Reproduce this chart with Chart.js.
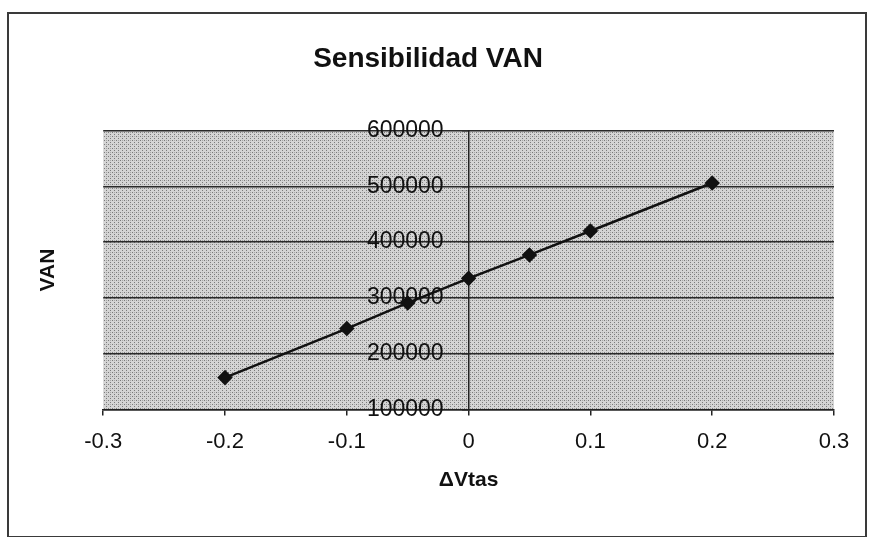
<!DOCTYPE html>
<html lang="es">
<head>
    <meta charset="UTF-8">
    <title>Sensibilidad VAN</title>
    <style>
        body {
            margin: 0;
            padding: 0;
            background-color: #fff;
        }

        .wrap {
            position: relative;
            width: 872px;
            height: 537px;
        }

        .frame {
            position: absolute;
            left: 7px;
            top: 12px;
            width: 860px;
            height: 526px;
            border: 2px solid #3a3a3a;
            box-sizing: border-box;
        }

        #chart {
            position: absolute;
            left: 0;
            top: 0;
        }
    </style>
</head>
<body>

    <div class="wrap">
        <div class="frame"></div>
        <canvas id="chart" width="872" height="537"></canvas>
    </div>

    <script src="https://cdn.jsdelivr.net/npm/chart.js"></script>
    <script>
        // Variacion de ventas vs VAN
        const deltaVtas = [-0.2, -0.1, -0.05, 0, 0.05, 0.1, 0.2];
        const vanValues = [157000, 245000, 291000, 335000, 377000, 420000, 506000];

        const xTickLabels = ['-0.3', '-0.2', '-0.1', '0', '0.1', '0.2', '0.3'];
        const yTickLabels = ['100000', '200000', '300000', '400000', '500000', '600000'];

        const fontFamily = "'Liberation Sans', Arial, sans-serif";

        // stippled gray background like the scanned Excel plot area
        const makePattern = (ctx) => {
            const p = document.createElement('canvas');
            p.width = 4;
            p.height = 4;
            const pc = p.getContext('2d');
            pc.fillStyle = '#d4d4d4';
            pc.fillRect(0, 0, 4, 4);
            pc.fillStyle = '#7a7a7a';
            pc.fillRect(0, 0, 1, 1);
            pc.fillRect(2, 2, 1, 1);
            pc.fillStyle = '#a8a8a8';
            pc.fillRect(2, 0, 1, 1);
            return ctx.createPattern(p, 'repeat');
        };

        const plotBackground = {
            id: 'plotBackground',
            beforeDraw(chart) {
                const { ctx, chartArea } = chart;
                ctx.save();
                ctx.fillStyle = makePattern(ctx);
                ctx.fillRect(chartArea.left, chartArea.top, chartArea.right - chartArea.left, chartArea.bottom - chartArea.top);
                ctx.restore();
            }
        };

        const ctx = document.getElementById('chart').getContext('2d');
        const chart = new Chart(ctx, {
            type: 'scatter',
            data: {
                datasets: [{
                    label: 'VAN',
                    data: deltaVtas.map((x, i) => ({ x: x, y: vanValues[i] })),
                    showLine: true,
                    borderColor: '#111',
                    borderWidth: 2.5,
                    backgroundColor: '#111',
                    pointStyle: 'rectRot',
                    pointRadius: 6,
                    pointHoverRadius: 6
                }]
            },
            options: {
                responsive: false,
                animation: false,
                layout: {
                    padding: { top: 20, left: 22, right: 38, bottom: 36 }
                },
                plugins: {
                    legend: { display: false },
                    tooltip: { enabled: false },
                    title: {
                        display: true,
                        text: 'Sensibilidad VAN',
                        color: '#111',
                        font: { family: fontFamily, size: 28, weight: 'bold' },
                        padding: { top: 22, bottom: 55 }
                    }
                },
                scales: {
                    x: {
                        type: 'linear',
                        min: -0.3,
                        max: 0.3,
                        ticks: {
                            stepSize: 0.1,
                            color: '#111',
                            padding: 13,
                            font: { family: fontFamily, size: 22 },
                            callback: (v, i) => xTickLabels[i]
                        },
                        grid: {
                            drawOnChartArea: false,
                            drawTicks: true,
                            tickLength: 6,
                            color: '#222',
                            lineWidth: 1.5
                        },
                        border: { color: '#222', width: 1.5 },
                        title: {
                            display: true,
                            text: 'ΔVtas',
                            color: '#111',
                            font: { family: fontFamily, size: 21, weight: 'bold' },
                            padding: { top: 0, bottom: 8 }
                        }
                    },
                    // axis line and gridlines crossing at x = 0
                    y: {
                        type: 'linear',
                        position: { x: 0 },
                        min: 100000,
                        max: 600000,
                        ticks: {
                            stepSize: 100000,
                            display: false
                        },
                        grid: {
                            color: '#2a2a2a',
                            lineWidth: 1.5,
                            drawTicks: true,
                            tickLength: 6
                        },
                        border: { color: '#222', width: 1.5 }
                    },
                    // tick labels, right aligned a little left of the axis
                    yLabels: {
                        type: 'linear',
                        axis: 'y',
                        position: { x: -0.0205 },
                        min: 100000,
                        max: 600000,
                        ticks: {
                            stepSize: 100000,
                            color: '#111',
                            font: { family: fontFamily, size: 23 },
                            callback: (v, i) => yTickLabels[i]
                        },
                        grid: { display: false, drawTicks: false },
                        border: { display: false }
                    },
                    // only carries the 'VAN' axis title on the left side
                    y2: {
                        type: 'linear',
                        axis: 'y',
                        position: 'left',
                        ticks: { display: false },
                        grid: { display: false, drawTicks: false },
                        border: { display: false },
                        title: {
                            display: true,
                            text: 'VAN',
                            color: '#111',
                            font: { family: fontFamily, size: 21, weight: 'bold' },
                            padding: { top: 14, bottom: 42 }
                        }
                    }
                }
            },
            plugins: [plotBackground]
        });
    </script>

</body>
</html>
